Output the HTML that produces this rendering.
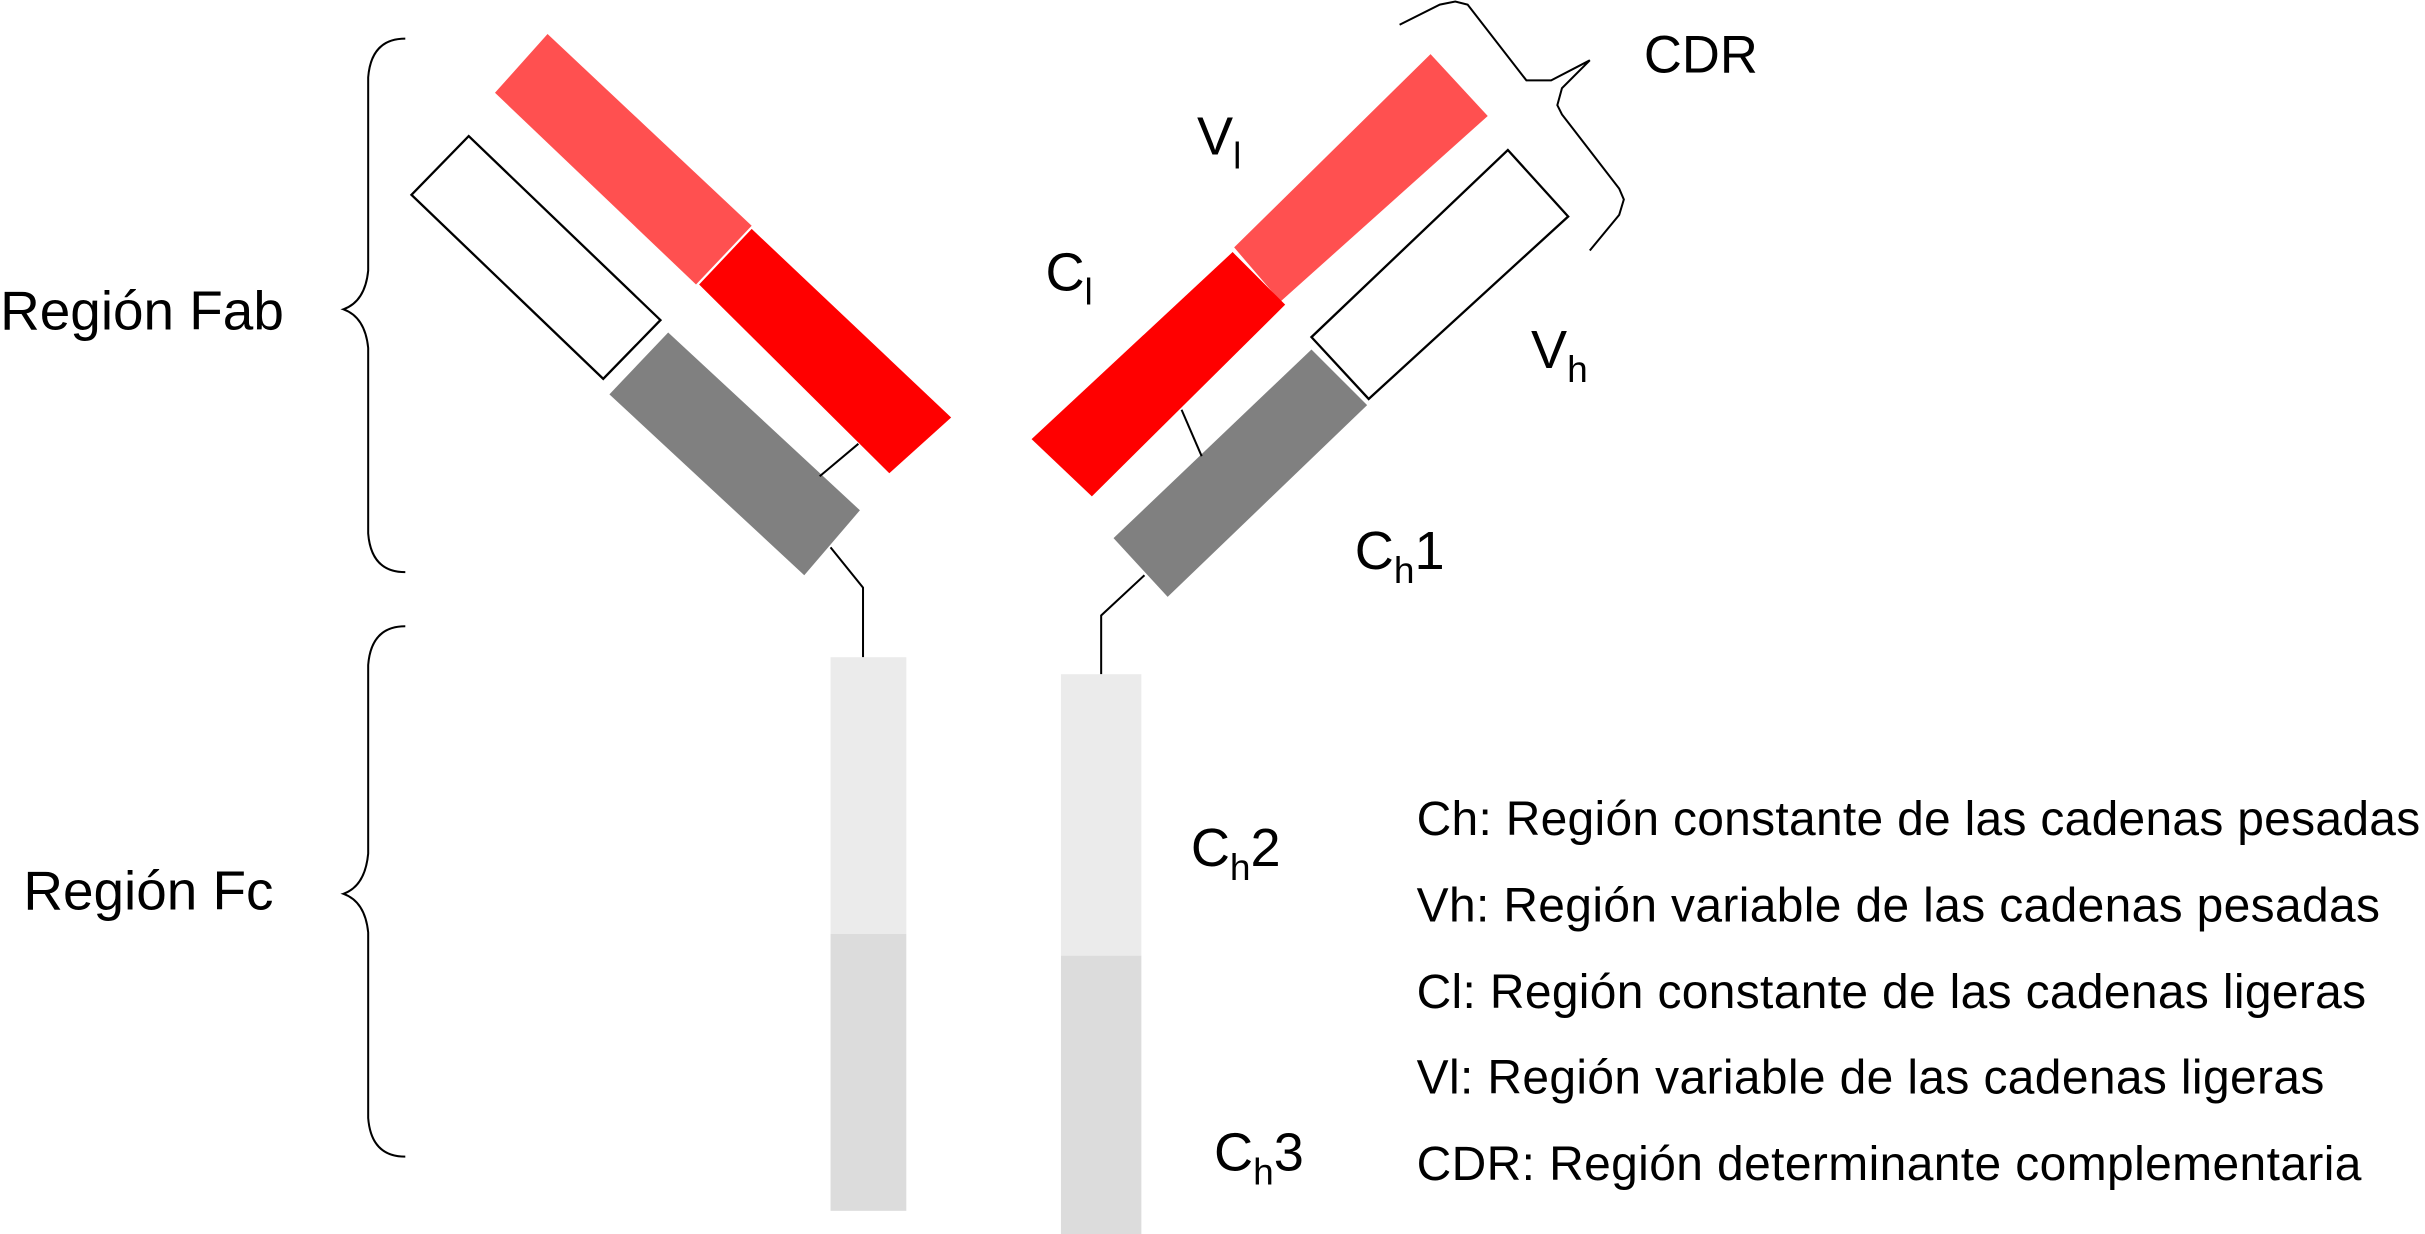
<!DOCTYPE html>
<html><head><meta charset="utf-8"><style>
html,body{margin:0;padding:0;background:#fff;}
svg{display:block;}
text{font-family:"Liberation Sans",Arial,sans-serif;fill:#000;}
</style></head><body>
<svg width="2425" height="1234" viewBox="0 0 1568 798" xmlns="http://www.w3.org/2000/svg">
<rect width="1568" height="798" fill="#fff"/>
<polygon points="354,22 486,146 450,184 320,60" fill="#ff5050"/>
<polygon points="486,148 615,270 575,306 452,184" fill="#ff0000"/>
<polygon points="303,88 427,207 390,245 266,126" fill="#fff" stroke="#000" stroke-width="1.5"/>
<polygon points="432,215 556,330 520,372 394,255" fill="#808080"/>
<polyline points="555,287 530,308" fill="none" stroke="#000" stroke-width="1.3"/>
<polyline points="537,354 558,380 558,425" fill="none" stroke="#000" stroke-width="1.3"/>
<rect x="537" y="425" width="49" height="179" fill="#ebebeb"/>
<rect x="537" y="604" width="49" height="179" fill="#dcdcdc"/>
<polygon points="925,35 962,75 828,195 798,160" fill="#ff5050"/>
<polygon points="797,163 831,197 706,321 667,284" fill="#ff0000"/>
<polygon points="975,97 1014,140 885,258 848,218" fill="#fff" stroke="#000" stroke-width="1.5"/>
<polygon points="848,226 884,262 755,386 720,348" fill="#808080"/>
<polyline points="764,265 777,295" fill="none" stroke="#000" stroke-width="1.3"/>
<polyline points="740,372 712,398 712,436" fill="none" stroke="#000" stroke-width="1.3"/>
<rect x="686" y="436" width="52" height="182" fill="#ebebeb"/>
<rect x="686" y="618" width="52" height="180" fill="#dcdcdc"/>
<path d="M262,25 Q240,25 238,50 L238,175 Q236,195 222,200 Q236,205 238,225 L238,345 Q240,370 262,370" fill="none" stroke="#000" stroke-width="1.3"/>
<path d="M262,405 Q240,405 238,430 L238,552 Q236,573 222,578 Q236,583 238,603 L238,723 Q240,748 262,748" fill="none" stroke="#000" stroke-width="1.3"/>
<polyline points="905,16 931,3 941,1 949,3 987,52 1003,52 1028,39 1010,57 1007,68 1010,74 1047,122 1050,129 1047,139 1028,162" fill="none" stroke="#000" stroke-width="1.3"/>
<text x="0" y="213" font-size="35.5">Región Fab</text>
<text x="15" y="588" font-size="35.5">Región Fc</text>
<text x="1063" y="47" font-size="34">CDR</text>
<text x="774" y="100" font-size="35">V<tspan font-size="24" dy="9">l</tspan></text>
<text x="676" y="188" font-size="35">C<tspan font-size="24" dy="9">l</tspan></text>
<text x="990" y="238" font-size="35">V<tspan font-size="24" dy="9">h</tspan></text>
<text x="876" y="368" font-size="35">C<tspan font-size="24" dy="9">h</tspan><tspan dy="-9">1</tspan></text>
<text x="770" y="560" font-size="35">C<tspan font-size="24" dy="9">h</tspan><tspan dy="-9">2</tspan></text>
<text x="785" y="757" font-size="35">C<tspan font-size="24" dy="9">h</tspan><tspan dy="-9">3</tspan></text>
<g font-size="31">
<text x="916" y="540" textLength="649">Ch: Región constante de las cadenas pesadas</text>
<text x="916" y="596" textLength="623">Vh: Región variable de las cadenas pesadas</text>
<text x="916" y="652" textLength="614">Cl: Región constante de las cadenas ligeras</text>
<text x="916" y="707" textLength="587">Vl: Región variable de las cadenas ligeras</text>
<text x="916" y="763" textLength="611">CDR: Región determinante complementaria</text>
</g>
</svg>
</body></html>
